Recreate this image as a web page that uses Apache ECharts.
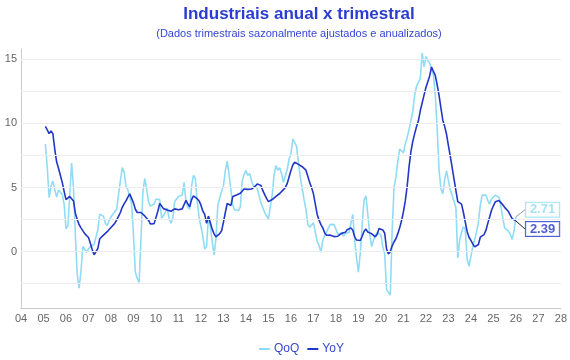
<!DOCTYPE html>
<html>
<head>
<meta charset="utf-8">
<script src="https://cdn.jsdelivr.net/npm/echarts@6/dist/echarts.min.js"></script>
<style>
html,body{margin:0;padding:0;background:#fff;}
#chart{width:570px;height:360px;}
</style>
</head>
<body>
<div id="chart"></div>
<script>
// Monthly data, Feb 2005 .. Jan 2026
const startYear = 2005, startMonth = 2;
const titleText = 'Industriais anual x trimestral';
const subtitleText = '(Dados trimestrais sazonalmente ajustados e anualizados)';
const seriesNames = ['QoQ', 'YoY'];

const qoq = [
  8.4, 6.6, 4.2, 5.1, 5.5, 4.85, 4.25, 4.8, 4.77, 4.45, 3.7,            // 2005 Feb-Dec
  1.77, 2.0, 4.4, 6.9, 5.0, 1.3, -1.8, -2.86, -1.5, 0.4, 0.4, -0.05,    // 2006
  0.2, 0.38, 0.5, 0.56, 0.65, 1.7, 2.92, 2.85, 2.75, 2.2, 2.03, 2.42,   // 2007
  2.68, 2.92, 2.82, 3.3, 4.4, 5.5, 6.55, 6.2, 5.1, 4.83, 4.92, 3.7,     // 2008
  1.3, -1.6, -2.1, -2.4, 1.0, 4.6, 5.7, 4.9, 3.9, 3.55, 3.5, 3.7,       // 2009
  4.1, 4.1, 4.05, 2.6, 2.6, 3.05, 3.4, 2.6, 2.2, 2.65, 3.9, 4.0,        // 2010
  4.3, 4.38, 4.4, 5.4, 3.9, 3.46, 3.3, 5.1, 5.95, 5.7, 3.9, 2.7,        // 2011
  1.95, 1.2, 0.2, 0.4, 2.8, 1.95, 0.8, -0.25, 1.0, 3.6, 4.2, 4.35,      // 2012
  5.15, 6.3, 7.05, 6.0, 4.75, 3.6, 3.25, 3.2, 3.2, 3.5, 5.5, 6.0,       // 2013
  6.33, 5.94, 6.1, 5.5, 5.12, 5.08, 4.95, 4.35, 3.8, 3.43, 3.05, 2.75,  // 2014
  2.55, 2.7, 4.4, 6.0, 6.7, 6.35, 6.55, 6.05, 5.4, 5.45, 6.4, 7.2,      // 2015
  7.65, 8.8, 8.87, 8.2, 6.9, 5.8, 4.9, 4.05, 3.3, 2.12, 1.9, 2.05,      // 2016
  2.25, 2.1, 0.8, 0.47, -0.05, 0.9, 1.25, 1.35, 1.85, 2.12, 1.98, 2.1,  // 2017
  1.75, 1.35, 1.35, 1.45, 1.2, 1.4, 1.4, 1.5, 1.5, 2.9, 0.9, -0.5,      // 2018
  -1.6, -0.1, 2.1, 4.0, 4.35, 2.9, 1.38, 0.4, 0.86, 1.28, 1.48, 1.5,    // 2019
  1.3, 0.4, -0.2, -2.95, -2.85, -3.4, 1.7, 5.0, 5.8, 7.05, 8.0, 8.15,   // 2020
  7.7, 8.4, 8.9, 9.5, 10.2, 10.95, 12.2, 12.9, 13.2, 13.5, 15.5, 14.4,  // 2021
  15.2, 14.9, 14.7, 14.6, 13.8, 12.2, 9.6, 6.4, 4.9, 4.5, 5.6, 6.3,     // 2022
  6.15, 4.8, 4.4, 4.3, 3.4, -0.5, 0.9, 1.5, 1.93, 1.75, -0.6, -1.15,    // 2023
  -1.0, 0.4, 0.95, 1.5, 2.3, 3.6, 4.4, 4.4, 4.4, 4.0, 3.7, 4.1,         // 2024
  4.2, 4.4, 4.45, 4.25, 3.55, 2.6, 1.85, 1.95, 1.6, 1.35, 0.95, 1.6,    // 2025
  2.71                                                                  // 2026 Jan
];

const yoy = [
  9.77, 9.5, 9.2, 9.4, 9.2, 8.0, 7.0, 6.5, 5.95, 5.4, 4.7,              // 2005 Feb-Dec
  4.05, 4.2, 4.3, 4.35, 3.95, 3.0, 2.5, 2.1, 1.85, 1.72, 1.4, 1.35,     // 2006
  1.1, 0.65, 0.15, -0.25, -0.39, 0.25, 1.0, 1.15, 1.28, 1.4, 1.55, 1.72,// 2007
  1.88, 2.0, 2.2, 2.45, 2.75, 3.05, 3.45, 3.72, 3.95, 4.25, 4.5, 4.42,  // 2008
  3.8, 3.3, 3.05, 2.97, 3.05, 3.05, 2.78, 2.66, 2.45, 2.15, 2.05, 2.18, // 2009
  2.3, 3.15, 3.75, 3.6, 3.35, 3.2, 3.25, 3.1, 3.15, 3.25, 3.33, 3.28,   // 2010
  3.26, 3.3, 3.33, 3.45, 4.0, 3.72, 3.5, 4.05, 4.35, 4.28, 4.12, 3.95,  // 2011
  3.62, 3.15, 2.9, 2.2, 2.75, 2.25, 1.75, 1.38, 1.15, 1.1, 1.4, 1.62,   // 2012
  2.3, 3.05, 3.75, 3.82, 3.6, 4.3, 4.43, 4.42, 4.45, 4.55, 4.7, 4.88,   // 2013
  4.95, 4.85, 4.72, 4.88, 4.95, 5.1, 5.28, 5.38, 5.15, 4.75, 4.45, 4.15,// 2014
  3.9, 3.97, 4.06, 4.18, 4.3, 4.4, 4.53, 4.68, 4.83, 5.0, 5.3, 5.82,    // 2015
  6.33, 6.75, 6.97, 6.92, 6.8, 6.7, 6.62, 6.52, 6.35, 5.88, 5.38, 5.0,  // 2016
  4.5, 3.7, 2.9, 2.45, 2.1, 1.85, 1.45, 1.27, 1.33, 1.28, 1.22, 1.17,   // 2017
  1.3, 1.2, 1.18, 1.42, 1.32, 1.5, 1.7, 1.55, 1.85, 1.66, 1.15, 0.9,    // 2018
  0.86, 0.86, 1.2, 1.58, 1.75, 1.52, 1.4, 1.4, 1.43, 1.15, 1.35, 1.8,   // 2019
  1.85, 1.68, 1.45, 0.2, -0.18, 0.0, 0.45, 0.77, 1.0, 1.4, 1.85, 2.4,   // 2020
  3.1, 3.95, 5.1, 6.6, 7.8, 8.6, 9.2, 9.75, 10.2, 11.0, 11.6, 12.2,     // 2021
  12.8, 13.25, 13.7, 14.4, 14.05, 13.75, 13.0, 12.2, 11.2, 10.25, 9.77, 9.15, // 2022
  8.27, 7.45, 6.55, 5.65, 4.75, 3.9, 4.0, 3.7, 3.05, 2.3, 1.55, 1.12,   // 2023
  0.87, 0.6, 0.37, 0.25, 0.55, 1.12, 1.02, 1.33, 1.65, 2.2, 2.7, 3.22,  // 2024
  3.57, 3.88, 3.77, 3.98, 3.82, 3.65, 3.45, 3.36, 3.12, 2.84, 2.57, 2.48, // 2025
  2.39                                                                  // 2026 Jan
];

const yGridValues = [-2.5, 0, 2.5, 5, 7.5, 10, 12.5, 15];
const xMin = 2004, xMax = 2028;
const yMin = -4.4, yMax = 15.8;

// decimal-year positions for each month
const dates = qoq.map((_, i) => startYear + (startMonth - 1 + i) / 12);
const qoqData = qoq.map((v, i) => [dates[i], v]);
const yoyData = yoy.map((v, i) => [dates[i], v]);
const last = qoq.length - 1;

const cQoQ = '#8fdcf4';
const cYoY = '#2236c8';
const font = '"Liberation Sans", Arial, sans-serif';

const chart = echarts.init(document.getElementById('chart'), null, {renderer: 'canvas'});
chart.setOption({
  animation: false,
  backgroundColor: '#fff',
  textStyle: {fontFamily: font},
  title: [
    {text: titleText, left: 294, top: 1, textAlign: 'center',
     textStyle: {color: '#2b3cd0', fontSize: 17, fontWeight: 'bold', fontFamily: font}},
    {text: subtitleText, left: 294, top: 23, textAlign: 'center',
     textStyle: {color: '#3447d4', fontSize: 11, fontWeight: 'normal', fontFamily: font}}
  ],
  legend: {
    data: seriesNames,
    left: 254, top: 338,
    icon: 'rect', itemWidth: 11, itemHeight: 2, itemGap: 8,
    textStyle: {color: '#3447d4', fontSize: 12, fontFamily: font, padding: [0, 0, 0, -1]}
  },
  grid: {left: 21, right: 8, top: 49, bottom: 52, containLabel: false},
  xAxis: {
    type: 'value', min: xMin, max: xMax, interval: 1,
    axisLine: {show: true, onZero: false, lineStyle: {color: '#cccccc'}},
    axisTick: {show: false},
    splitLine: {show: false},
    axisLabel: {color: '#666', fontSize: 11, margin: 5, fontFamily: font,
      formatter: v => String(Math.round(v)).slice(2)}
  },
  yAxis: {
    type: 'value', min: yMin, max: yMax,
    axisLine: {show: true, onZero: false, lineStyle: {color: '#cccccc'}},
    axisTick: {show: false},
    splitLine: {show: false},
    axisLabel: {color: '#666', fontSize: 11, margin: 4, fontFamily: font,
      showMinLabel: false, showMaxLabel: false,
      formatter: v => (Math.abs(v % 5) < 1e-9 ? String(v) : '')}
  },
  series: [
    {
      name: 'QoQ', type: 'line', data: qoqData, showSymbol: false, symbol: 'none',
      lineStyle: {color: cQoQ, width: 1.6}, itemStyle: {color: cQoQ}, z: 2,
      markLine: {
        silent: true, symbol: 'none', animation: false,
        label: {show: false},
        lineStyle: {color: '#ececec', width: 1, type: 'solid'},
        data: yGridValues.map(v => ({yAxis: v}))
      }
    },
    {
      name: 'YoY', type: 'line', data: yoyData, showSymbol: false, symbol: 'none',
      lineStyle: {color: cYoY, width: 1.6}, itemStyle: {color: cYoY}, z: 3
    },
    {
      name: 'qoqLabel', type: 'scatter', data: [qoqData[last]], symbolSize: 0, z: 5,
      silent: true,
      label: {show: true, position: 'right', distance: 0,
        formatter: p => p.value[1].toFixed(2),
        color: cQoQ, fontSize: 13, fontWeight: 'bold', fontFamily: font,
        backgroundColor: '#fff', borderColor: cQoQ, borderWidth: 1, padding: [1, 4, 0, 4]},
      labelLine: {show: true, lineStyle: {color: '#999', width: 1}},
      labelLayout: () => ({dx: 10, dy: -7})
    },
    {
      name: 'yoyLabel', type: 'scatter', data: [yoyData[last]], symbolSize: 0, z: 5,
      silent: true,
      label: {show: true, position: 'right', distance: 0,
        formatter: p => p.value[1].toFixed(2),
        color: cYoY, fontSize: 13, fontWeight: 'bold', fontFamily: font,
        backgroundColor: '#fff', borderColor: cYoY, borderWidth: 1, padding: [1, 4, 0, 4]},
      labelLine: {show: true, lineStyle: {color: '#222', width: 1}},
      labelLayout: () => ({dx: 10, dy: 8})
    }
  ]
});
</script>
</body>
</html>
